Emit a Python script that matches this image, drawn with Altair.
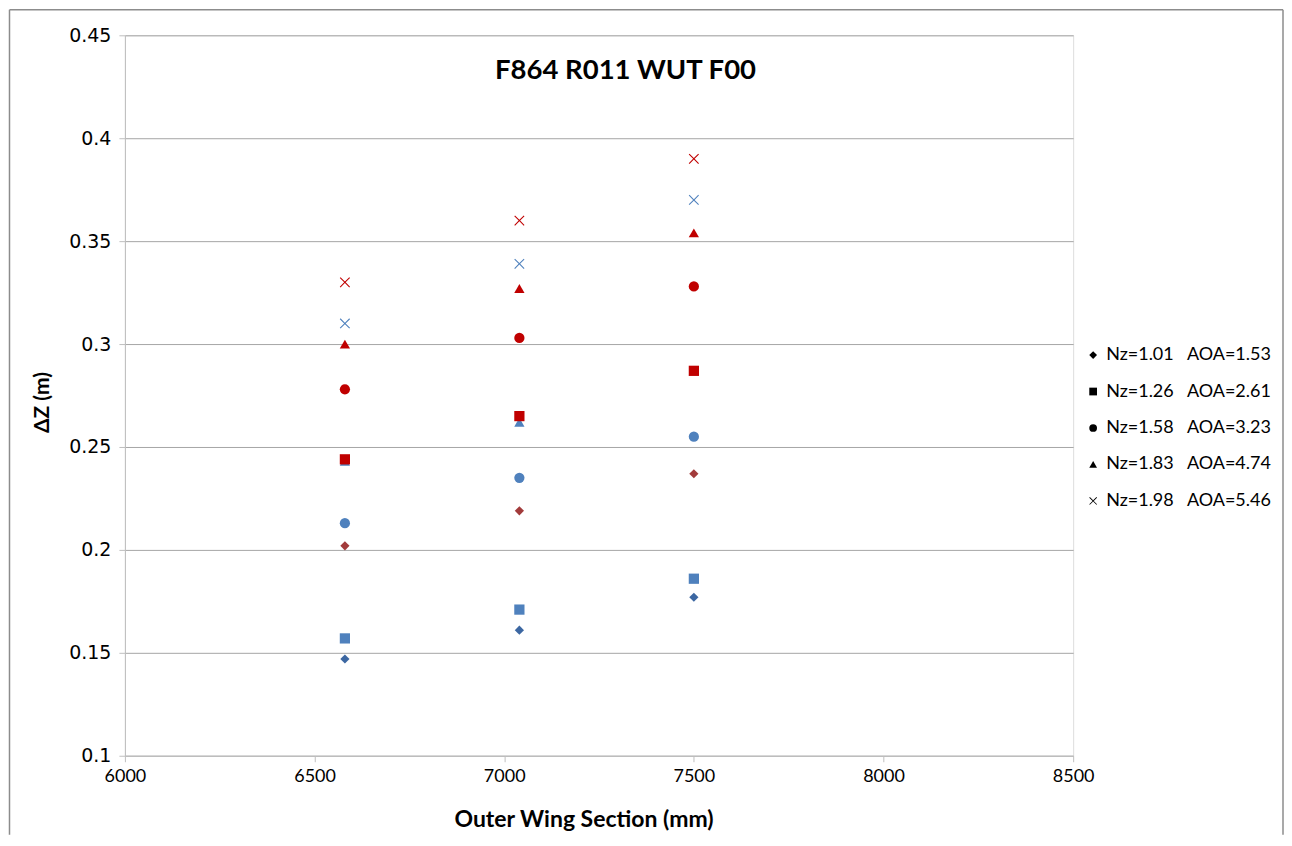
import altair as alt
import pandas as pd

# ---- data ----
x_positions = [6580, 7040, 7500]

legend_labels = [
    "Nz=1.01\u00a0\u00a0\u00a0AOA=1.53",
    "Nz=1.26\u00a0\u00a0\u00a0AOA=2.61",
    "Nz=1.58\u00a0\u00a0\u00a0AOA=3.23",
    "Nz=1.83\u00a0\u00a0\u00a0AOA=4.74",
    "Nz=1.98\u00a0\u00a0\u00a0AOA=5.46",
]

# blue group
blue_nz101 = [0.147, 0.161, 0.177]
blue_nz126 = [0.157, 0.171, 0.186]
blue_nz158 = [0.213, 0.235, 0.255]
blue_nz183 = [0.243, 0.262, 0.287]
blue_nz198 = [0.310, 0.339, 0.370]

# red group
red_nz101 = [0.202, 0.219, 0.237]
red_nz126 = [0.244, 0.265, 0.287]
red_nz158 = [0.278, 0.303, 0.328]
red_nz183 = [0.300, 0.327, 0.354]
red_nz198 = [0.330, 0.360, 0.390]

x_ticks = [6000, 6500, 7000, 7500, 8000, 8500]
y_ticks = [0.1, 0.15, 0.2, 0.25, 0.3, 0.35, 0.4, 0.45]

series_names = ["B1", "B2", "B3", "B4", "B5", "R1", "R2", "R3", "R4", "R5"]
series_colors = ["#3C67A2", "#4F81BD", "#4F81BD", "#4F81BD", "#4F81BD",
                 "#A23B3B", "#C00000", "#C00000", "#C00000", "#C00000"]

X_PATH = ("M-1,-0.85L-0.85,-1L0,-0.15L0.85,-1L1,-0.85L0.15,0L1,0.85L0.85,1L0,0.15"
          "L-0.85,1L-1,0.85L-0.15,0Z")
shapes = ["diamond", "square", "circle", "triangle-up", X_PATH]

rows = []
groups = [
    ("B", [blue_nz101, blue_nz126, blue_nz158, blue_nz183, blue_nz198]),
    ("R", [red_nz101, red_nz126, red_nz158, red_nz183, red_nz198]),
]
for g, lists in groups:
    for i, vals in enumerate(lists):
        for xv, yv in zip(x_positions, vals):
            rows.append({"x": xv, "y": yv, "label": legend_labels[i],
                         "series": f"{g}{i+1}"})
df = pd.DataFrame(rows)

FONT = "Lato"

points = alt.Chart(df).mark_point(filled=True, opacity=1, size=100).encode(
    x=alt.X("x:Q", scale=alt.Scale(domain=[6000, 8500], nice=False),
            axis=alt.Axis(values=x_ticks, format="d", title="Outer Wing Section (mm)",
                          grid=False, tickSize=6, labelPadding=6, labelFlush=False,
                          labelFont=FONT, labelFontSize=18, labelColor="#000000",
                          titleFont=FONT, titleFontSize=23, titleFontWeight="bold",
                          titleColor="#000000", titlePadding=23, titleX=459,
                          domainColor="#bfbfbf", tickColor="#bfbfbf")),
    y=alt.Y("y:Q", scale=alt.Scale(domain=[0.1, 0.45], nice=False, zero=False),
            axis=alt.Axis(values=y_ticks, format=".2~f", title="ΔZ (m)",
                          grid=True, gridColor="#a6a6a6", gridWidth=1,
                          tickSize=6, labelPadding=8, labelFlush=False,
                          labelFont="DejaVu Sans", labelFontSize=19, labelColor="#000000",
                          titleFont=FONT, titleFontSize=21, titleFontWeight="bold",
                          titleColor="#000000", titlePadding=16, titleY=367,
                          domainColor="#bfbfbf", tickColor="#bfbfbf")),
    color=alt.Color("series:N", scale=alt.Scale(domain=series_names, range=series_colors),
                    legend=None),
    shape=alt.Shape("label:N", scale=alt.Scale(domain=legend_labels, range=shapes),
                    legend=alt.Legend(title=None, orient="none", legendX=960, legendY=311,
                                      symbolFillColor="black", symbolStrokeColor="black",
                                      symbolSize=60, symbolStrokeWidth=0,
                                      labelFont=FONT, labelFontSize=18, labelColor="#000000",
                                      labelLimit=400,
                                      labelOffset=4, rowPadding=18.5, padding=0)),
    size=alt.condition(alt.datum.label == legend_labels[0], alt.value(85), alt.value(105)),
)

title_txt = alt.Chart(pd.DataFrame({"t": ["F864 R011 WUT F00"]})).mark_text(
    font=FONT, fontSize=27.5, fontWeight="bold", color="#000000",
    align="center", baseline="middle"
).encode(x=alt.value(501), y=alt.value(36), text="t:N")

frame_df = pd.DataFrame({"b": [0]})
frame_style = dict(color="#8c8c8c", strokeWidth=1.5)
left_edge = alt.Chart(frame_df).mark_rule(**frame_style).encode(
    x=alt.value(-115.5), y=alt.value(-25.5), y2=alt.value(800))
top_edge = alt.Chart(frame_df).mark_rule(**frame_style).encode(
    x=alt.value(-115.5), x2=alt.value(1159), y=alt.value(-25.5))
right_edge = alt.Chart(frame_df).mark_rule(**frame_style).encode(
    x=alt.value(1159), y=alt.value(-25.5), y2=alt.value(800))

chart = alt.layer(left_edge, top_edge, right_edge, points, title_txt).properties(
    width=949, height=721,
    padding={"left": 0, "top": 0, "right": 0, "bottom": 0},
).configure_view(stroke=None).configure(background="white")

chart.save("out.html", embed_options={"renderer": "svg", "actions": False})
